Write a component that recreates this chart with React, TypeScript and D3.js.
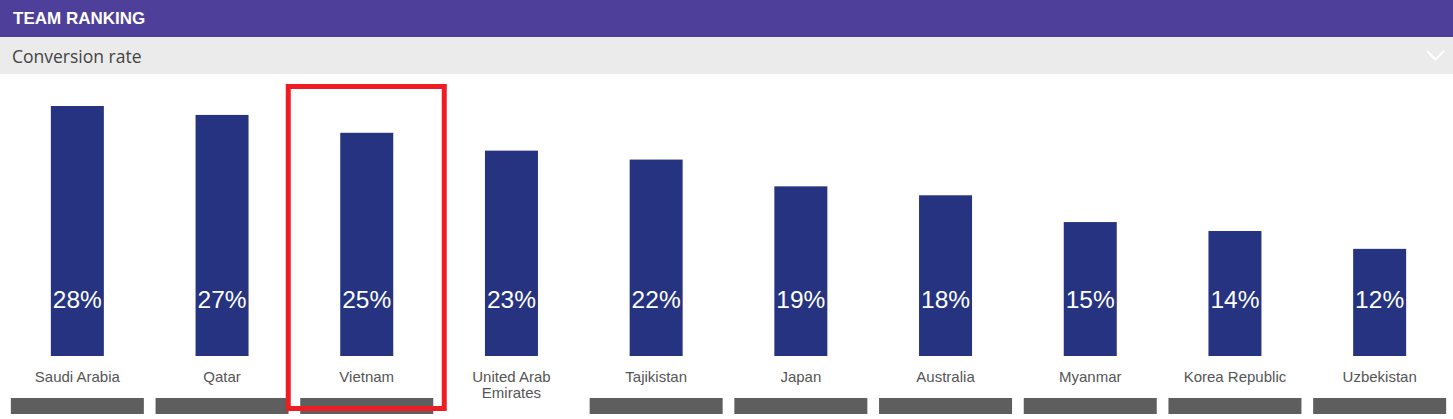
import React from "react";
import * as d3 from "d3";

const categories: string[][] = [
  ["Saudi Arabia"],
  ["Qatar"],
  ["Vietnam"],
  ["United Arab", "Emirates"],
  ["Tajikistan"],
  ["Japan"],
  ["Australia"],
  ["Myanmar"],
  ["Korea Republic"],
  ["Uzbekistan"],
];
const values: number[] = [28, 27, 25, 23, 22, 19, 18, 15, 14, 12];
const footerShown: boolean[] = [true, true, true, false, true, true, true, true, true, true];
const highlighted: string = "Vietnam";
const title = "TEAM RANKING";
const subtitle = "Conversion rate";

const W = 1453;
const H = 419;

export default function App() {
  const keys = categories.map((c) => c.join(" "));
  const x = d3.scaleBand<string>().domain(keys).range([5, 1452]).paddingInner(0).paddingOuter(0);
  const y = d3.scaleLinear().domain([0, 28]).range([356, 106]);
  const barW = 53;
  const footW = 133;
  const font = "Arial, 'Liberation Sans', sans-serif";

  const hiIdx = keys.indexOf(highlighted);
  const hiCenter = (x(keys[hiIdx]) as number) + x.bandwidth() / 2;

  return (
    <div style={{ position: "absolute", left: 0, top: 0 }}>
      <svg width={W} height={H} style={{ display: "block" }}>
        <rect x={0} y={0} width={W} height={H} fill="#ffffff" />
        <rect x={0} y={0} width={W} height={37} fill="#4E3F9A" />
        <text x={13} y={23.5} fill="#ffffff" fontFamily={font} fontWeight="bold" fontSize={17}>
          {title}
        </text>
        <rect x={0} y={37} width={W} height={37} fill="#EBEBEB" />
        <text x={12} y={62.5} fill="#444444" fontFamily="'Open Sans', sans-serif" fontSize={17.5}>
          {subtitle}
        </text>
        <path d="M1427,51 L1435.5,59.5 L1444,51" fill="none" stroke="#ffffff" strokeWidth={2} />

        {keys.map((k, i) => {
          const cx = (x(k) as number) + x.bandwidth() / 2;
          const v = values[i];
          return (
            <g key={k}>
              <rect x={cx - barW / 2} y={y(v)} width={barW} height={y(0) - y(v)} fill="#253380" />
              <text
                x={cx}
                y={308}
                textAnchor="middle"
                fill="#ffffff"
                fontFamily={font}
                fontSize={24.5}
              >
                {v}%
              </text>
              {categories[i].map((line, j) => (
                <text
                  key={j}
                  x={cx}
                  y={382 + j * 16}
                  textAnchor="middle"
                  fill="#555555"
                  fontFamily={font}
                  fontSize={15}
                >
                  {line}
                </text>
              ))}
              {footerShown[i] && (
                <rect x={cx - footW / 2} y={398} width={footW} height={16} fill="#5E5E5E" />
              )}
            </g>
          );
        })}

        <rect
          x={hiCenter - 78.5}
          y={86.5}
          width={156}
          height={322}
          fill="none"
          stroke="#EE1D24"
          strokeWidth={5}
        />
      </svg>
    </div>
  );
}
